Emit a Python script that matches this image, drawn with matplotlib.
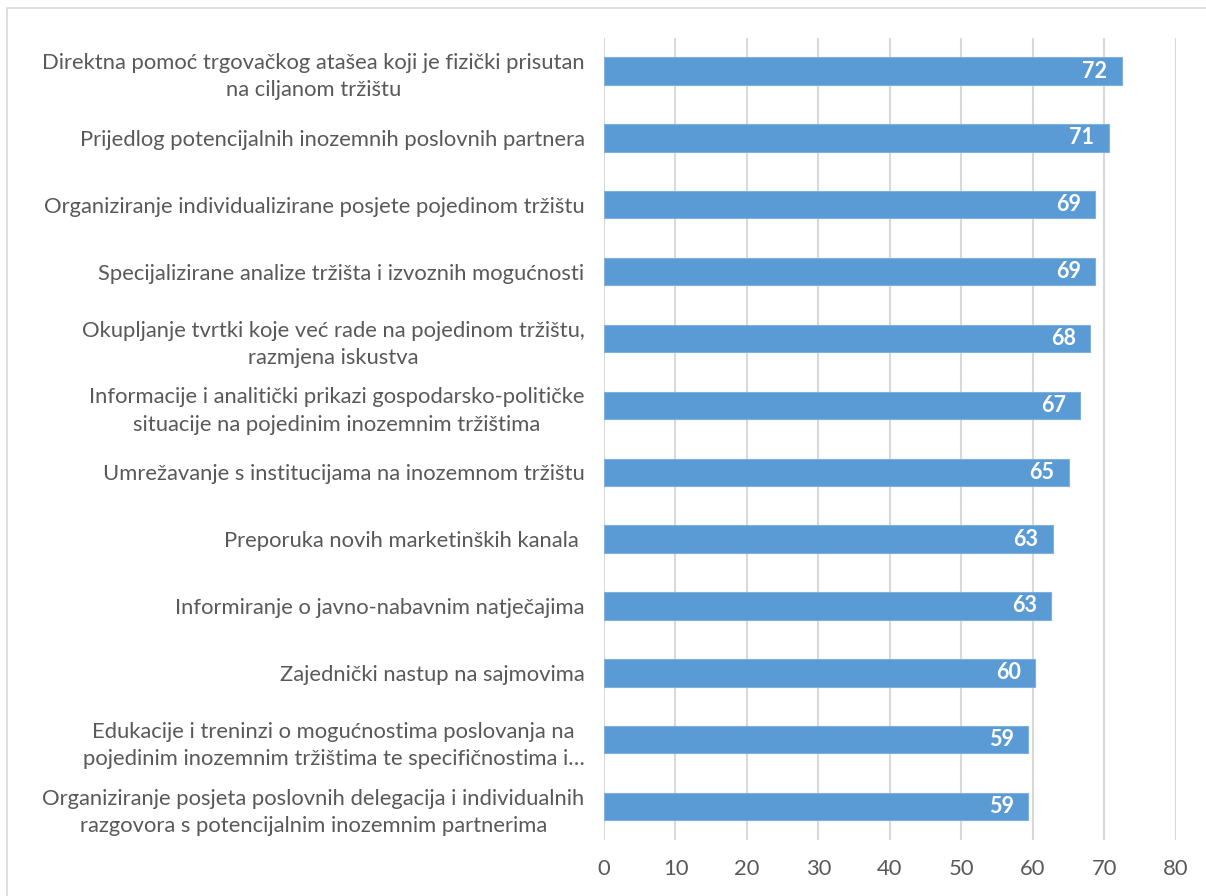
import matplotlib
matplotlib.use("Agg")
from matplotlib import pyplot as plt
from matplotlib.patches import Rectangle

# Categories (top to bottom) and values
categories = [
    "Direktna pomoć trgovačkog atašea koji je fizički prisutan\nna ciljanom tržištu",
    "Prijedlog potencijalnih inozemnih poslovnih partnera",
    "Organiziranje individualizirane posjete pojedinom tržištu",
    "Specijalizirane analize tržišta i izvoznih mogućnosti",
    "Okupljanje tvrtki koje već rade na pojedinom tržištu,\nrazmjena iskustva",
    "Informacije i analitički prikazi gospodarsko-političke\nsituacije na pojedinim inozemnim tržištima",
    "Umrežavanje s institucijama na inozemnom tržištu",
    "Preporuka novih marketinških kanala ",
    "Informiranje o javno-nabavnim natječajima",
    "Zajednički nastup na sajmovima",
    "Edukacije i treninzi o mogućnostima poslovanja na\npojedinim inozemnim tržištima te specifičnostima i…",
    "Organiziranje posjeta poslovnih delegacija i individualnih\nrazgovora s potencijalnim inozemnim partnerima",
]
values = [72.4, 70.6, 68.7, 68.7, 68.0, 66.6, 65.0, 62.8, 62.6, 60.3, 59.3, 59.3]
x_ticks = [0, 10, 20, 30, 40, 50, 60, 70, 80]

plt.rcParams['font.family'] = ['Lato', 'DejaVu Sans']
text_color = "#595959"
bar_color = "#5B9BD5"

fig = plt.figure(figsize=(12.06, 8.96), dpi=100)
ax = fig.add_axes([0.5008, 0.0625, 0.4742, 0.8955])

# Outer chart border
fig.patches.append(Rectangle((0.006, -0.01), 1.02, 1.001, transform=fig.transFigure,
                             fill=False, edgecolor="#D9D9D9", linewidth=1.2))

pos = list(range(len(categories)))
bars = ax.barh(pos, values, height=0.41, color=bar_color, edgecolor="#7FB0DE",
               linewidth=0.8, zorder=3)

for b, v in zip(bars, values):
    ax.text(b.get_width() - 2.0, b.get_y() + b.get_height() / 2, f"{v:.0f}",
            ha="right", va="center", color="white", fontsize=15.5,
            fontweight="bold", zorder=4)

ax.set_ylim(len(categories) - 0.5, -0.5)
ax.set_xlim(0, 80)
ax.set_xticks(x_ticks)
ax.set_yticks(pos)
ax.set_yticklabels(categories, multialignment="center", linespacing=1.45)
ax.tick_params(axis="y", length=0, pad=14, labelsize=15.8, labelcolor=text_color)
ax.tick_params(axis="x", length=0, pad=14, labelsize=15.8, labelcolor=text_color)
ax.grid(axis="x", color="#D9D9D9", linewidth=1.5, zorder=0)
for s in ax.spines.values():
    s.set_visible(False)

fig.savefig("out.png", dpi=100)
